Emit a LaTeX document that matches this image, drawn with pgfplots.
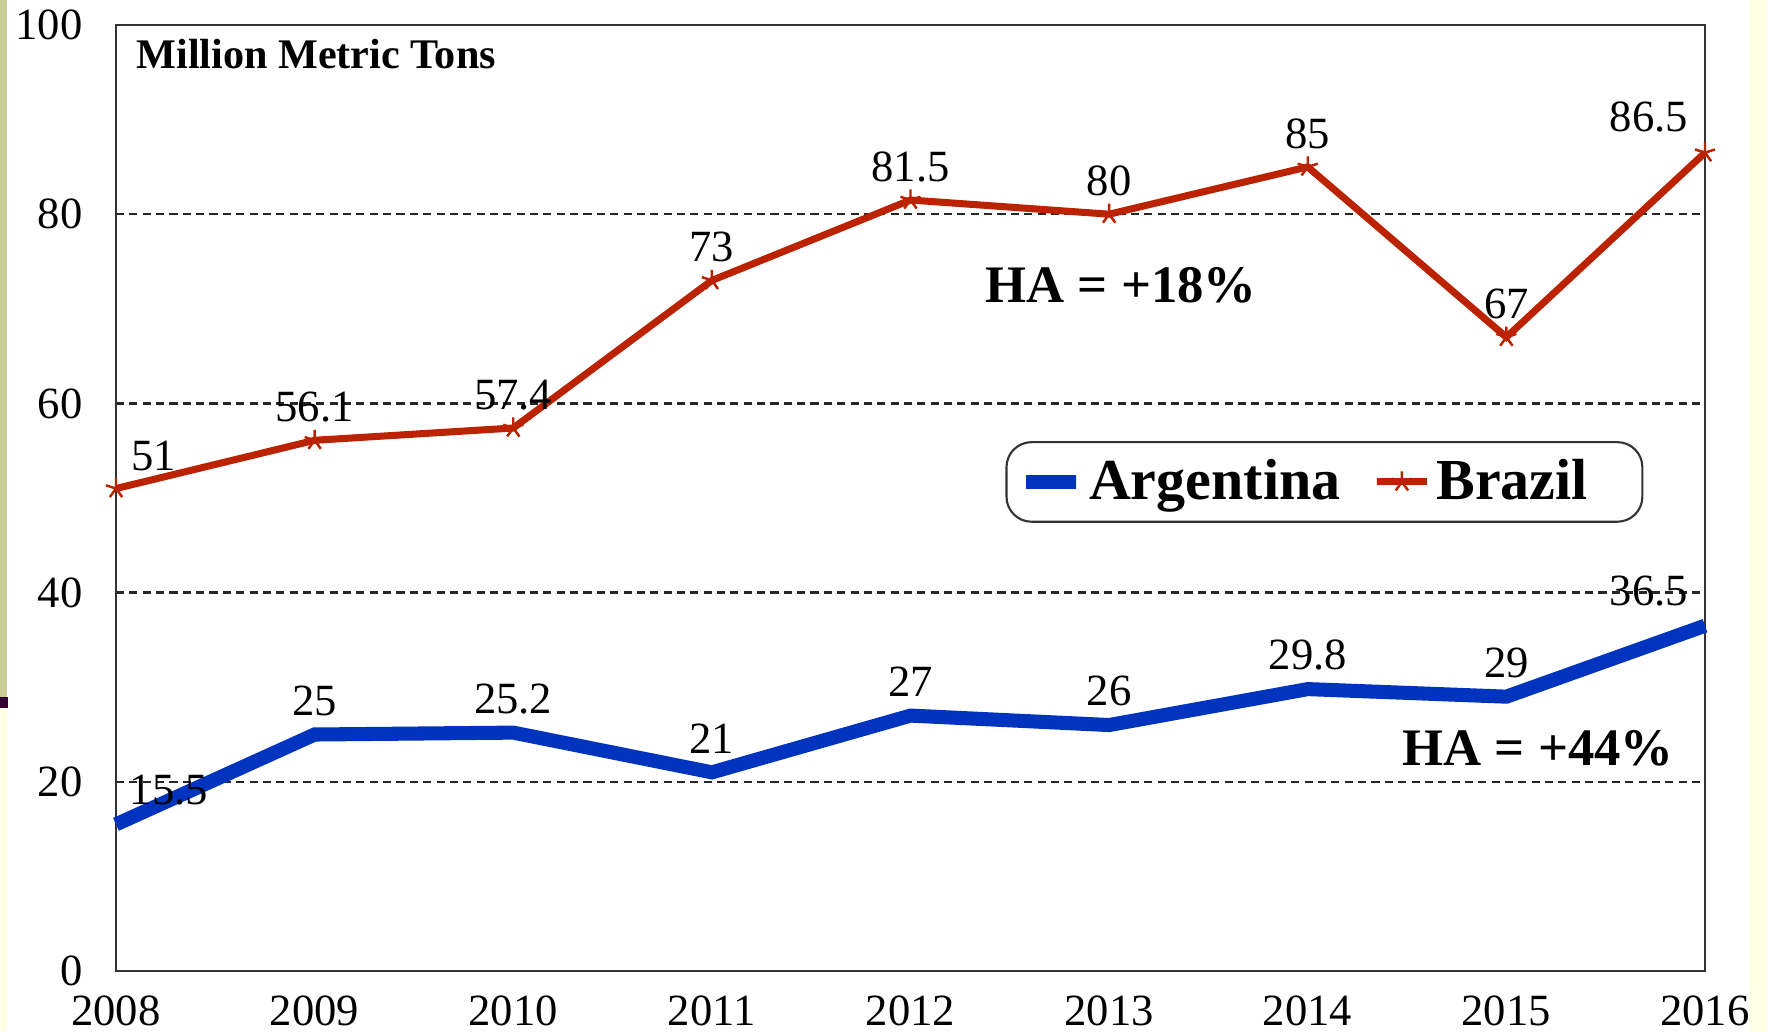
\documentclass[border=0pt]{standalone}
\usepackage{fontspec}
\setmainfont{Liberation Serif}
\usepackage{pgfplots}
\pgfplotsset{compat=1.18}
\definecolor{argblue}{RGB}{0,51,190}
\definecolor{brared}{RGB}{187,34,0}
\definecolor{oliveb}{RGB}{204,204,153}
\definecolor{paley}{RGB}{255,255,229}
\definecolor{darkpurple}{RGB}{51,0,51}
\begin{document}
\begin{tikzpicture}
\useasboundingbox (0,0) rectangle (17.67cm,10.32cm);
\fill[white] (0,0) rectangle (17.67cm,10.32cm);
\fill[oliveb] (0,3.35cm) rectangle (0.07cm,10.32cm);
\fill[darkpurple] (0,3.24cm) rectangle (0.08cm,3.35cm);
\fill[paley] (0,0) rectangle (0.07cm,3.24cm);
\fill[paley] (17.49cm,0) rectangle (17.67cm,10.32cm);
\begin{axis}[
  at={(1.16cm,0.61cm)}, anchor=south west,
  scale only axis, width=15.89cm, height=9.46cm,
  xmin=2008, xmax=2016, ymin=0, ymax=100,
  xtick={2008,2009,...,2016}, ytick={0,20,...,100},
  /pgf/number format/assume math mode=true,
  xticklabel style={/pgf/number format/1000 sep={}, yshift=-3.5pt},
  yticklabel style={xshift=-6pt},
  ticklabel style={font=\fontsize{12.7}{14}\selectfont},
  major tick length=0pt,
  ymajorgrids,
  grid style={black!85, line width=0.7pt, dash pattern=on 2.3pt off 1.5pt},
  axis line style={black!80, line width=0.8pt},
  clip=false,
  legend columns=2,
  legend style={at={(0.7605,0.517)}, anchor=center, draw=black!80, line width=0.6pt, rounded corners=2.5mm,
    font=\fontsize{16.5}{18}\selectfont\bfseries,
    /tikz/every even column/.append style={column sep=2.7mm},
    inner xsep=1.35mm, inner ysep=1mm},
  legend image code/.code={\draw[mark repeat=2, mark phase=2, #1] plot coordinates {(0mm,0mm) (2.4mm,0mm) (4.8mm,0mm)};},
  every node near coord/.append style={font=\fontsize{12.7}{14}\selectfont, black, anchor=center},
]
\addplot[argblue, line width=4pt, nodes near coords,
  every node near coord/.append style={yshift=3.4mm},
  coordinate style/.condition={x==2008}{xshift=5.3mm},
  coordinate style/.condition={x==2016}{xshift=-5.6mm, yshift=0.1mm}]
  coordinates {(2008,15.5) (2009,25) (2010,25.2) (2011,21) (2012,27) (2013,26) (2014,29.8) (2015,29) (2016,36.5)};
\addlegendentry{Argentina}
\addplot[brared, line width=2pt, mark=star, mark size=3pt, mark options={line width=0.7pt}, nodes near coords,
  every node near coord/.append style={yshift=3.3mm},
  coordinate style/.condition={x==2008}{xshift=3.8mm},
  coordinate style/.condition={x==2016}{xshift=-5.6mm, yshift=0.3mm}]
  coordinates {(2008,51) (2009,56.1) (2010,57.4) (2011,73) (2012,81.5) (2013,80) (2014,85) (2015,67) (2016,86.5)};
\addlegendentry{Brazil\rule{3.4mm}{0pt}}
\node[font=\fontsize{12}{14}\selectfont\bfseries, anchor=base west, inner sep=0] at (axis cs:2008.1,95.45) {Million Metric Tons};
\node[font=\fontsize{15}{17}\selectfont\bfseries, anchor=base, inner sep=0] at (axis cs:2013.06,70.7) {HA = +18\%};
\node[font=\fontsize{15}{17}\selectfont\bfseries, anchor=base, inner sep=0] at (axis cs:2015.16,21.7) {HA = +44\%};
\end{axis}
\end{tikzpicture}
\end{document}
